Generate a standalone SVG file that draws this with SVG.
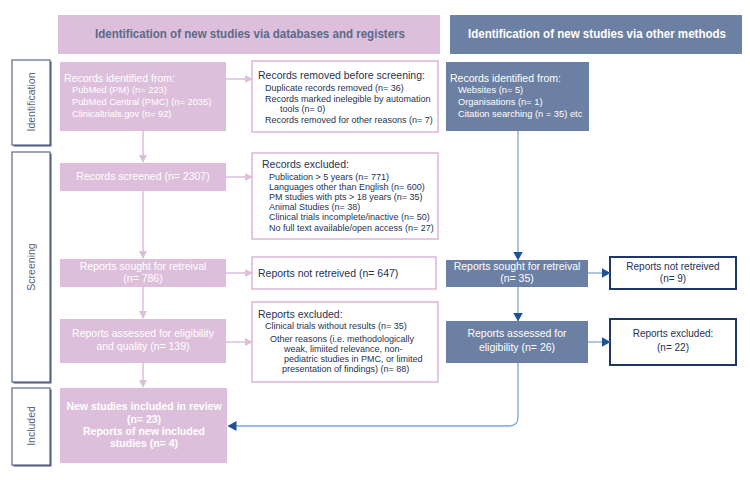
<svg xmlns="http://www.w3.org/2000/svg" width="750" height="480" viewBox="0 0 750 480">
<style>
text{font-family:"Liberation Sans",Arial,sans-serif}
.pk{fill:#ddbfdb}
.bl{fill:#6b80a3}
.po{fill:#fff;stroke:#dbb6d8;stroke-width:1.5}
.bo{fill:#fff;stroke:#1d3768;stroke-width:2}
.ph{fill:#fff;stroke:#5a6886;stroke-width:1.2}
.phs{fill:#4a5876}
.phl{font-size:10.5px;fill:#56647f;text-anchor:middle}
.hd{font-size:12px;font-weight:bold;text-anchor:middle}
.w{fill:#fff;font-size:10px}
.wc{fill:#fff;font-size:10px;text-anchor:middle}
.wb{fill:#fff;font-size:10.5px;font-weight:bold;text-anchor:middle}
.t{fill:#26324f;font-size:10.5px}
.s{fill:#26324f;font-size:9px}
.dc{fill:#26324f;font-size:10px;text-anchor:middle}
.pl{stroke:#ddbfdb;stroke-width:1.5;fill:none}
.bln{stroke:#7fa6cf;stroke-width:1.3;fill:none}
</style>
<defs>
<marker id="ap" markerWidth="8" markerHeight="8" refX="7" refY="4" orient="auto" markerUnits="userSpaceOnUse">
<path d="M0,0 L8,4 L0,8 Z" fill="#ddbfdb"/>
</marker>
<marker id="ab" markerWidth="9" markerHeight="10" refX="8.5" refY="5" orient="auto" markerUnits="userSpaceOnUse">
<path d="M0,0 L9,5 L0,10 Z" fill="#1d5293"/>
</marker>
</defs>

<g id="header-db">
<rect x="58" y="15" width="382" height="39" class="pk"/>
<text x="250" y="38" class="hd" fill="#5b6a88" textLength="310" lengthAdjust="spacingAndGlyphs">Identification of new studies via databases and registers</text>
</g>
<g id="header-other">
<rect x="450" y="15" width="292" height="39" class="bl"/>
<text x="597" y="38" class="hd" fill="#fff" textLength="258" lengthAdjust="spacingAndGlyphs">Identification of new studies via other methods</text>
</g>

<g id="phase-identification">
<rect x="13.5" y="61.5" width="38" height="85" class="phs"/>
<rect x="12" y="60" width="38" height="85" class="ph"/>
<text transform="translate(35,102) rotate(-90)" class="phl">Identification</text>
</g>
<g id="phase-screening">
<rect x="13.5" y="153.5" width="38" height="230" class="phs"/>
<rect x="12" y="152" width="38" height="230" class="ph"/>
<text transform="translate(35,267) rotate(-90)" class="phl">Screening</text>
</g>
<g id="phase-included">
<rect x="13.5" y="389.5" width="38" height="77" class="phs"/>
<rect x="12" y="388" width="38" height="77" class="ph"/>
<text transform="translate(35,426) rotate(-90)" class="phl">Included</text>
</g>

<g id="records-identified">
<rect x="60" y="62" width="166" height="69" class="pk"/>
<text x="64" y="82" class="w" style="font-size:10.5px">Records identified from:</text>
<text x="72" y="93" class="w" style="font-size:9.3px">PubMed (PM) (n= 223)</text>
<text x="72" y="105" class="w" style="font-size:9.3px">PubMed Central (PMC) (n= 2035)</text>
<text x="72" y="117" class="w" style="font-size:9.3px">Clinicaltrials.gov (n= 92)</text>
</g>
<g id="records-removed">
<rect x="252" y="61" width="186" height="71" class="po"/>
<text x="258" y="79" class="t">Records removed before screening:</text>
<text x="265" y="91" class="s">Duplicate records removed (n= 36)</text>
<text x="265" y="102" class="s">Records marked inelegible by automation</text>
<text x="280" y="112" class="s">tools (n= 0)</text>
<text x="265" y="123" class="s">Records removed for other reasons (n= 7)</text>
</g>
<g id="records-screened">
<rect x="60" y="163" width="166" height="28" class="pk"/>
<text x="143" y="180" class="wc" style="font-size:10.5px">Records screened (n= 2307)</text>
</g>
<g id="records-excluded">
<rect x="252" y="153" width="186" height="86" class="po"/>
<text x="262" y="168" class="t">Records excluded:</text>
<text x="269" y="180" class="s">Publication &gt; 5 years (n= 771)</text>
<text x="269" y="190" class="s">Languages other than English (n= 600)</text>
<text x="269" y="200" class="s">PM studies with pts &gt; 18 years (n= 35)</text>
<text x="269" y="210" class="s">Animal Studies (n= 38)</text>
<text x="269" y="220" class="s">Clinical trials incomplete/inactive (n= 50)</text>
<text x="269" y="231" class="s">No full text available/open access (n= 27)</text>
</g>
<g id="reports-sought">
<rect x="60" y="259" width="166" height="28" class="pk"/>
<text x="143" y="270" class="wc" style="font-size:10.5px">Reports sought for retreival</text>
<text x="143" y="282" class="wc" style="font-size:10.5px">(n= 786)</text>
</g>
<g id="reports-not-retrieved">
<rect x="252" y="257" width="184" height="32" class="po"/>
<text x="258" y="277" class="t">Reports not retreived (n= 647)</text>
</g>
<g id="reports-assessed">
<rect x="60" y="319" width="166" height="44" class="pk"/>
<text x="143" y="337" class="wc" style="font-size:10.5px">Reports assessed for eligibility</text>
<text x="143" y="350" class="wc" style="font-size:10.5px">and quality (n= 139)</text>
</g>
<g id="reports-excluded">
<rect x="252" y="302" width="186" height="80" class="po"/>
<text x="258" y="318" class="t">Reports excluded:</text>
<text x="265" y="329" class="s">Clinical trials without results (n= 35)</text>
<text x="270" y="342" class="s">Other reasons (i.e. methodologically</text>
<text x="284" y="352" class="s">weak, limiited relevance, non-</text>
<text x="284" y="362" class="s">pediatric studies in PMC, or limited</text>
<text x="282" y="372" class="s">presentation of findings) (n= 88)</text>
</g>
<g id="included">
<rect x="60" y="388" width="167" height="75" class="pk"/>
<text x="144" y="410" class="wb">New studies included in review</text>
<text x="144" y="423" class="wb">(n= 23)</text>
<text x="144" y="435" class="wb">Reports of new included</text>
<text x="144" y="447" class="wb">studies (n= 4)</text>
</g>

<g id="other-identified">
<rect x="446" y="62" width="143" height="69" class="bl"/>
<text x="450" y="82" class="w" style="font-size:10.5px">Records identified from:</text>
<text x="458" y="93" class="w" style="font-size:9.3px">Websites (n= 5)</text>
<text x="458" y="105" class="w" style="font-size:9.3px">Organisations (n= 1)</text>
<text x="458" y="117" class="w" style="font-size:9.3px">Citation searching (n = 35) etc</text>
</g>
<g id="other-sought">
<rect x="446" y="260" width="142" height="27" class="bl"/>
<text x="517" y="270" class="wc" style="font-size:10.5px">Reports sought for retreival</text>
<text x="517" y="282" class="wc" style="font-size:10.5px">(n= 35)</text>
</g>
<g id="other-not-retrieved">
<rect x="610" y="257" width="126" height="32" class="bo"/>
<text x="673" y="270" class="dc">Reports not retreived</text>
<text x="673" y="282" class="dc">(n= 9)</text>
</g>
<g id="other-assessed">
<rect x="446" y="321" width="142" height="42" class="bl"/>
<text x="517" y="337" class="wc" style="font-size:10.5px">Reports assessed for</text>
<text x="517" y="351" class="wc" style="font-size:10.5px">eligibility (n= 26)</text>
</g>
<g id="other-excluded">
<rect x="610" y="319" width="126" height="46" class="bo"/>
<text x="673" y="337" class="dc">Reports excluded:</text>
<text x="673" y="351" class="dc">(n= 22)</text>
</g>

<g id="connectors">
<line x1="143" y1="131" x2="143" y2="162" class="pl" marker-end="url(#ap)"/>
<line x1="226" y1="79" x2="252" y2="79" class="pl" marker-end="url(#ap)"/>
<line x1="226" y1="177" x2="252" y2="177" class="pl" marker-end="url(#ap)"/>
<line x1="143" y1="191" x2="143" y2="258" class="pl" marker-end="url(#ap)"/>
<line x1="226" y1="273" x2="252" y2="273" class="pl" marker-end="url(#ap)"/>
<line x1="143" y1="287" x2="143" y2="318" class="pl" marker-end="url(#ap)"/>
<line x1="226" y1="342" x2="252" y2="342" class="pl" marker-end="url(#ap)"/>
<line x1="143" y1="363" x2="143" y2="387" class="pl" marker-end="url(#ap)"/>
<line x1="518" y1="131" x2="518" y2="260" class="bln" marker-end="url(#ab)"/>
<line x1="588" y1="273" x2="610" y2="273" class="bln" marker-end="url(#ab)"/>
<line x1="518" y1="287" x2="518" y2="321" class="bln" marker-end="url(#ab)"/>
<line x1="588" y1="342" x2="610" y2="342" class="bln" marker-end="url(#ab)"/>
<path d="M518,363 L518,417 Q518,426 509,426 L228,426" class="bln" marker-end="url(#ab)"/>
</g>
</svg>
